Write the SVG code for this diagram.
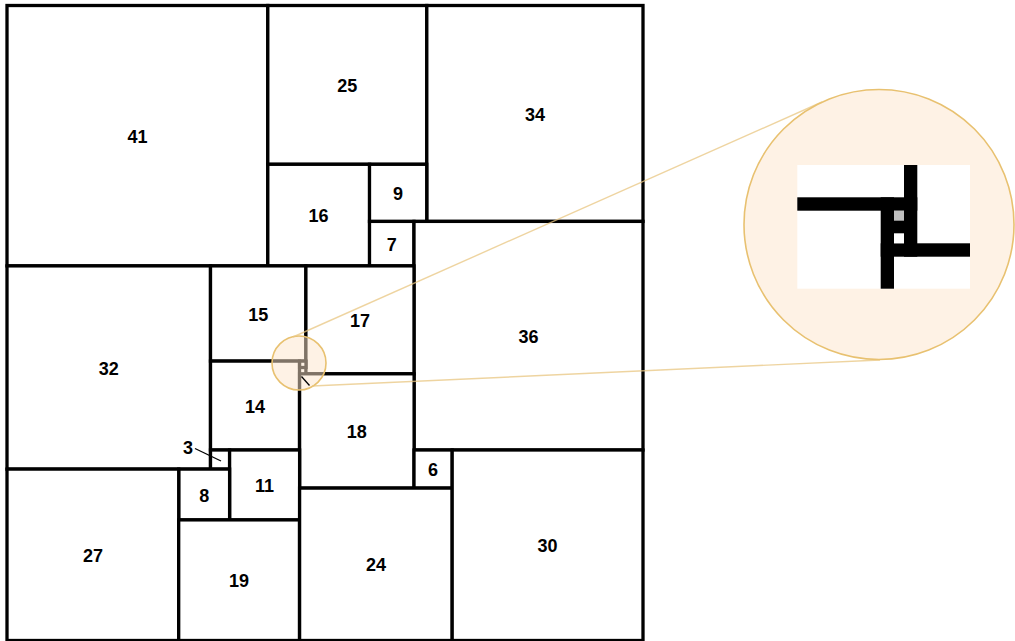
<svg xmlns="http://www.w3.org/2000/svg" width="1015" height="641" viewBox="0 0 1015 641">
<style>
.sq{fill:#fff;stroke:#000;stroke-width:3.3}
.lb{font-family:"Liberation Sans",Arial,sans-serif;font-weight:bold;font-size:18px;fill:#000;text-anchor:middle}
.ptr{stroke:#000;stroke-width:1.3;fill:none}
.lens{fill:#fde5cc;fill-opacity:0.5;stroke:#e8c170;stroke-width:1.6}
.zl{stroke:#e8c680;stroke-width:1.4;stroke-opacity:0.75;fill:none}
.bar{fill:#000}
</style>
<rect width="1015" height="641" fill="#fff"/>
<g id="sq41"><rect class="sq" x="7" y="5.5" width="260.8" height="260.4"/><text class="lb" x="137.4" y="143">41</text></g>
<g id="sq25"><rect class="sq" x="267.8" y="5.5" width="159" height="158.8"/><text class="lb" x="347.3" y="92">25</text></g>
<g id="sq34"><rect class="sq" x="426.8" y="5.5" width="216.2" height="215.9"/><text class="lb" x="534.9" y="120.5">34</text></g>
<g id="sq16"><rect class="sq" x="267.8" y="164.3" width="101.8" height="101.6"/><text class="lb" x="318.6" y="222">16</text></g>
<g id="sq9"><rect class="sq" x="369.5" y="164.3" width="57.2" height="57.2"/><text class="lb" x="398.1" y="199.8">9</text></g>
<g id="sq7"><rect class="sq" x="369.5" y="221.4" width="44.5" height="44.5"/><text class="lb" x="391.8" y="250.6">7</text></g>
<g id="sq36"><rect class="sq" x="414" y="221.4" width="229" height="228.6"/><text class="lb" x="528.5" y="342.7">36</text></g>
<g id="sq32"><rect class="sq" x="7" y="265.9" width="203.5" height="203.2"/><text class="lb" x="108.8" y="374.5">32</text></g>
<g id="sq15"><rect class="sq" x="210.5" y="265.9" width="95.4" height="95.2"/><text class="lb" x="258.2" y="320.5">15</text></g>
<g id="sq17"><rect class="sq" x="305.9" y="265.9" width="108.1" height="108"/><text class="lb" x="360" y="326.8">17</text></g>
<g id="sq14"><rect class="sq" x="210.5" y="361.1" width="89" height="88.9"/><text class="lb" x="255" y="412.5">14</text></g>
<g id="sq1"><rect class="sq" x="299.6" y="361.1" width="6.4" height="6.4"/><text class="lb" x="313.5" y="404">1</text></g>
<g id="sq18"><rect class="sq" x="299.6" y="373.8" width="114.5" height="114.3"/><text class="lb" x="356.8" y="438">18</text></g>
<g id="sq3"><rect class="sq" x="210.5" y="450" width="19.1" height="19.1"/><text class="lb" x="188" y="453.5">3</text></g>
<g id="sq11"><rect class="sq" x="229.6" y="450" width="70" height="69.9"/><text class="lb" x="264.6" y="492">11</text></g>
<g id="sq8"><rect class="sq" x="178.7" y="469.1" width="50.9" height="50.8"/><text class="lb" x="204.2" y="501.5">8</text></g>
<g id="sq6"><rect class="sq" x="414" y="450" width="38.2" height="38.1"/><text class="lb" x="433.1" y="476">6</text></g>
<g id="sq27"><rect class="sq" x="7" y="469.1" width="171.7" height="171.4"/><text class="lb" x="92.9" y="561.8">27</text></g>
<g id="sq19"><rect class="sq" x="178.7" y="519.9" width="120.8" height="120.6"/><text class="lb" x="239.1" y="587.2">19</text></g>
<g id="sq24"><rect class="sq" x="299.6" y="488.1" width="152.6" height="152.4"/><text class="lb" x="375.9" y="571.3">24</text></g>
<g id="sq30"><rect class="sq" x="452.2" y="450" width="190.8" height="190.5"/><text class="lb" x="547.6" y="552.3">30</text></g>
<g id="lens-small"><circle class="lens" cx="299" cy="363" r="27"/></g>
<g id="connectors">
<line class="ptr" x1="195" y1="448.5" x2="221" y2="461"/>
<line class="ptr" x1="301.5" y1="376.5" x2="309.5" y2="385.5"/>
<line class="zl" x1="293" y1="337" x2="822" y2="102"/>
<line class="zl" x1="312" y1="386" x2="880" y2="360"/>
</g>
<g id="lens-big">
<circle class="lens" cx="879" cy="224.5" r="135"/>
<rect x="797.3" y="165" width="172.7" height="123.7" fill="#fff"/>
<rect class="bar" x="797.3" y="197.3" width="120" height="13.4"/>
<rect class="bar" x="904" y="165" width="13.3" height="91.7"/>
<rect class="bar" x="880.7" y="243.3" width="89.3" height="13.4"/>
<rect class="bar" x="880.7" y="197.3" width="13.3" height="91.4"/>
<rect class="bar" x="894" y="210.7" width="10" height="32.6"/>
<rect x="894" y="210.7" width="10" height="10" fill="#c0c0c0"/>
<rect x="894" y="233.3" width="10" height="10" fill="#fff"/>
</g>
</svg>
